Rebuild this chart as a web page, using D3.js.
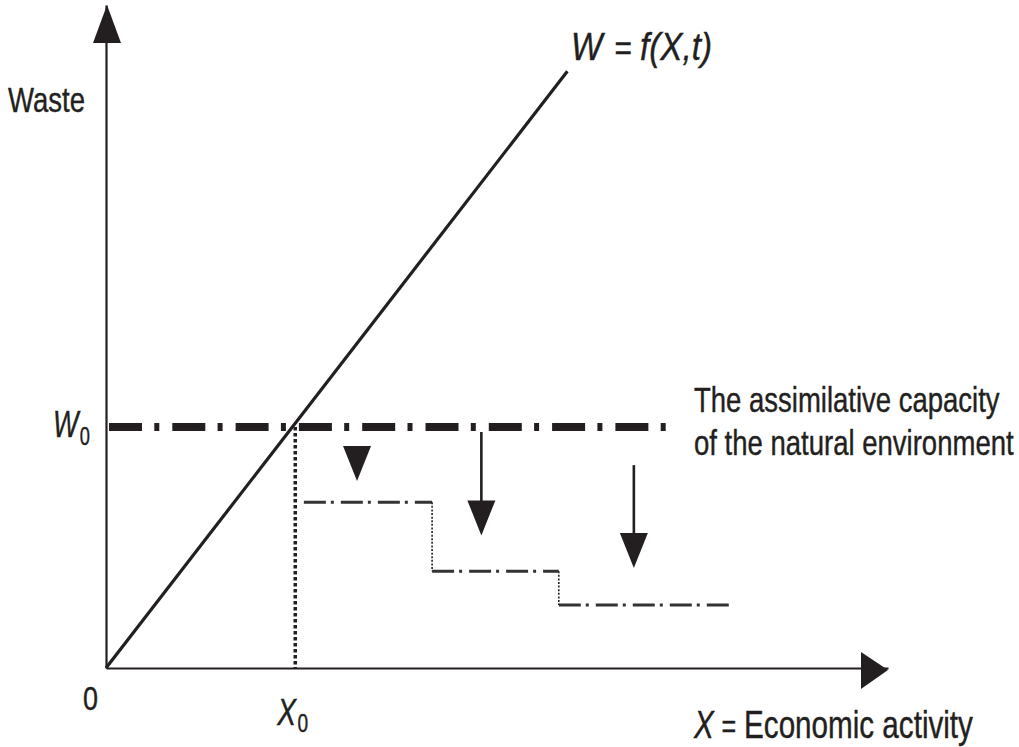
<!DOCTYPE html>
<html>
<head>
<meta charset="utf-8">
<script src="https://cdn.jsdelivr.net/npm/d3@7"></script>
<style>
  html, body { margin: 0; padding: 0; background: #fff; }
  svg text { font-family: "Liberation Sans", Arial, sans-serif; fill: #231f20; stroke: #231f20; stroke-width: 0.4px; }
</style>
</head>
<body>
<div id="chart"></div>
<script>
// 數值 (以圖上單位讀取, 兩軸皆 0..10)
const xDomain = [0, 10];
const yDomain = [0, 10];
const wasteLine = [[0, 0], [5.9, 9.0]];        // W = f(X,t)
const W0 = 3.635;                              // 環境吸納能力
const X0 = 2.42;
const capacityEnd = 7.17;
const stepBreaks = [2.53, 4.17, 5.79, 8.02];   // 每一階的起點與終點
const stepLevels = [2.50, 1.46, 0.95];
const arrows = [
    { x: 3.21, from: 3.33, to: 2.82 },
    { x: 4.80, from: 3.56, to: 2.00 },
    { x: 6.75, from: 3.06, to: 1.51 }
];

const width = 1019;
const height = 747;
const ink = "#231f20";

const svg = d3.select("#chart")
    .append("svg")
    .attr("width", width)
    .attr("height", height);

const xScale = d3.scaleLinear().domain(xDomain).range([106, 888]);
const yScale = d3.scaleLinear().domain(yDomain).range([668, 5]);

// 加入 x 軸 / y 軸 (只有軸線)
svg.append("g")
    .attr("transform", `translate(0, ${yScale(0)})`)
    .call(d3.axisBottom(xScale).tickValues([]).tickSizeOuter(0))
    .select(".domain").attr("stroke", ink).attr("stroke-width", 2.2);
svg.append("g")
    .attr("transform", `translate(${xScale(0)}, 0)`)
    .call(d3.axisLeft(yScale).tickValues([]).tickSizeOuter(0))
    .select(".domain").attr("stroke", ink).attr("stroke-width", 2.2);

// 軸的箭頭
const xEnd = xScale(xDomain[1]);
const yEnd = yScale(yDomain[1]);
svg.append("path")
    .attr("d", `M${xEnd},${yScale(0) + 2} L${xEnd - 27},${yScale(0) - 16} L${xEnd - 27},${yScale(0) + 21} Z`)
    .attr("fill", ink);
svg.append("path")
    .attr("d", `M${xScale(0) + 1},${yEnd} L${xScale(0) - 13},${yEnd + 38} L${xScale(0) + 15},${yEnd + 38} Z`)
    .attr("fill", ink);

// 吸納能力 (粗的點劃線)
svg.append("line")
    .attr("x1", xScale(0) + 3)
    .attr("x2", xScale(capacityEnd))
    .attr("y1", yScale(W0))
    .attr("y2", yScale(W0))
    .attr("stroke", ink)
    .attr("stroke-width", 8)
    .attr("stroke-dasharray", "33,12.3,5,13");

// X0 的虛線
svg.append("line")
    .attr("x1", xScale(X0))
    .attr("x2", xScale(X0))
    .attr("y1", yScale(W0))
    .attr("y2", yScale(0))
    .attr("stroke", ink)
    .attr("stroke-width", 3.5)
    .attr("stroke-dasharray", "3.5,2.5");

// 廢棄物直線
const line = d3.line().x(d => xScale(d[0])).y(d => yScale(d[1]));
svg.append("path")
    .attr("d", line(wasteLine))
    .attr("fill", "none")
    .attr("stroke", ink)
    .attr("stroke-width", 3.2);

// 階梯: 水平段
svg.append("g")
    .selectAll("line")
    .data(stepLevels)
    .enter()
    .append("line")
    .attr("x1", (d, i) => xScale(stepBreaks[i]))
    .attr("x2", (d, i) => xScale(stepBreaks[i + 1]))
    .attr("y1", d => yScale(d))
    .attr("y2", d => yScale(d))
    .attr("stroke", "#333")
    .attr("stroke-width", 3)
    .attr("stroke-dasharray", "22,5,3,7");

// 階梯: 垂直的點線
svg.append("g")
    .selectAll("line")
    .data(stepLevels.slice(1))
    .enter()
    .append("line")
    .attr("x1", (d, i) => xScale(stepBreaks[i + 1]))
    .attr("x2", (d, i) => xScale(stepBreaks[i + 1]))
    .attr("y1", (d, i) => yScale(stepLevels[i]))
    .attr("y2", d => yScale(d))
    .attr("stroke", ink)
    .attr("stroke-width", 1.6)
    .attr("stroke-dasharray", "2,1.6");

// 向下箭頭
const headH = 35, headW = 28;
arrows.forEach(a => {
    const x = xScale(a.x);
    const yTip = yScale(a.to);
    const yTop = yScale(a.from);
    if (yTip - yTop > headH + 1) {
        svg.append("line")
            .attr("x1", x).attr("x2", x)
            .attr("y1", yTop).attr("y2", yTip - headH + 2)
            .attr("stroke", ink)
            .attr("stroke-width", 2.6);
    }
    svg.append("path")
        .attr("d", `M${x},${yTip} L${x - headW / 2},${yTip - headH} L${x + headW / 2},${yTip - headH} Z`)
        .attr("fill", ink);
});

// 文字: 用水平縮放做出窄體字 (參考圖是 condensed 字體)
// parts: [文字, 斜體?, 字級比例, dx, dy]
const addLabel = (x, y, size, width, parts) => {
    const g = svg.append("g").attr("transform", `translate(${x}, ${y})`);
    const t = g.append("text").attr("x", 0).attr("y", 0).attr("font-size", size);
    parts.forEach(p => {
        const s = t.append("tspan").text(p[0]);
        if (p[1]) s.attr("font-style", "italic");
        if (p[2]) s.attr("font-size", size * p[2]);
        if (p[3]) s.attr("dx", p[3]);
        if (p[4]) s.attr("dy", p[4]);
    });
    const box = t.node().getBBox();
    g.attr("transform", `translate(${x}, ${y}) scale(${width / (box.x + box.width)}, 1)`);
    return g;
};

addLabel(8, 112, 36, 77, [["Waste"]]);
addLabel(694, 412, 35, 306, [["The assimilative capacity"]]);
addLabel(694, 455, 35, 320, [["of the natural environment"]]);
addLabel(83, 710, 33, 15, [["0"]]);

addLabel(571, 60, 38, 141, [["W", true], ["=", false, 0.9, 14], ["f(X,t)", true, 1, 9]]);
addLabel(53, 437, 37, 37, [["W", true], ["0", false, 0.68, 2, 8]]);
addLabel(xScale(X0) - 18, 725, 37, 31, [["X", true], ["0", false, 0.68, 2, 7]]);
addLabel(694, 738, 38, 279, [["X", true], ["=", false, 0.85, 10], ["Economic activity", false, 1, 10]]);
</script>
</body>
</html>
